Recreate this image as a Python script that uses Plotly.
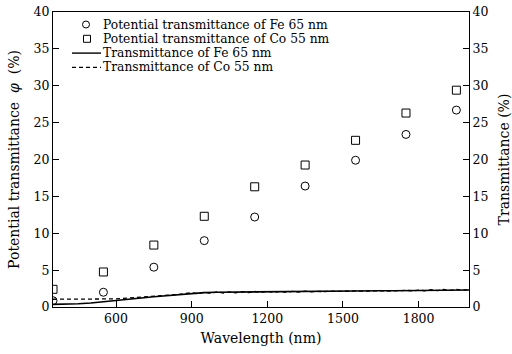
import plotly.graph_objects as go

# Potential transmittance (symbols), sampled every 200 nm
pt_wavelength = [350, 550, 750, 950, 1150, 1350, 1550, 1750, 1950]
pt_fe = [0.85, 2.0, 5.4, 9.0, 12.2, 16.4, 19.9, 23.4, 26.7]
pt_co = [2.4, 4.75, 8.4, 12.3, 16.3, 19.25, 22.6, 26.3, 29.4]

# Measured transmittance spectra (lines)
fe_wavelength = list(range(350, 2001, 50))
fe_trans = [0.35, 0.38, 0.45, 0.55, 0.7, 0.88, 1.05, 1.22, 1.4, 1.55, 1.7, 1.85,
            1.95, 2.0, 2.02, 2.05, 2.08, 2.1, 2.1, 2.12, 2.12, 2.13, 2.15, 2.15,
            2.17, 2.18, 2.2, 2.2, 2.22, 2.22, 2.25, 2.25, 2.28, 2.3]

co_wavelength = list(range(350, 2001, 25))
co_trans = [1.05, 1.05, 1.04, 1.04, 1.05, 1.05, 1.06, 1.06, 1.07, 1.08, 1.1,
            1.15, 1.2, 1.27, 1.33, 1.4, 1.46, 1.52, 1.58, 1.65, 1.72,
            1.85, 1.95, 1.8, 2.0, 1.85, 2.05, 1.9, 2.05, 1.92, 2.08,
            1.95, 2.1, 1.97, 2.12, 1.98, 2.1, 2.0, 2.12, 2.02, 2.15,
            2.05, 2.12, 2.08, 2.15, 2.1, 2.16, 2.12, 2.18, 2.14, 2.18,
            2.15, 2.2, 2.17, 2.22, 2.18, 2.25, 2.2, 2.28, 2.2, 2.35,
            2.22, 2.38, 2.25, 2.4, 2.28, 2.4]

x_ticks = [600, 900, 1200, 1500, 1800]
legend_labels = ["Potential transmittance of Fe 65 nm",
                 "Potential transmittance of Co 55 nm",
                 "Transmittance of Fe 65 nm",
                 "Transmittance of Co 55 nm"]

FONT = "DejaVu Serif"
W, H = 512, 354
L, R, T, B = 53, 43, 12, 47
PW, PH = W - L - R, H - T - B


def px(xp):
    return (xp - L) / PW


def py(yp):
    return (H - B - yp) / PH


fig = go.Figure()
fig.add_trace(go.Scatter(x=pt_wavelength, y=pt_fe, mode="markers",
                         marker=dict(symbol="circle-open", size=8, color="black",
                                     line=dict(width=1, color="black"))))
fig.add_trace(go.Scatter(x=pt_wavelength, y=pt_co, mode="markers",
                         marker=dict(symbol="square-open", size=8, color="black",
                                     line=dict(width=1, color="black"))))
fig.add_trace(go.Scatter(x=fe_wavelength, y=fe_trans, mode="lines", yaxis="y2",
                         line=dict(color="black", width=1.6)))
fig.add_trace(go.Scatter(x=co_wavelength, y=co_trans, mode="lines", yaxis="y2",
                         line=dict(color="black", width=1.3, dash="4px,3px")))

# Legend block drawn as shapes and text
row_y = [24.5, 38.8, 53.1, 67.4]
shapes = [
    dict(type="circle", xref="paper", yref="paper", xsizemode="pixel", ysizemode="pixel",
         xanchor=px(86), yanchor=py(row_y[0]), x0=-3.5, x1=3.5, y0=-3.5, y1=3.5,
         line=dict(color="black", width=1)),
    dict(type="rect", xref="paper", yref="paper", xsizemode="pixel", ysizemode="pixel",
         xanchor=px(87), yanchor=py(row_y[1]), x0=-3.5, x1=3.5, y0=-3.5, y1=3.5,
         line=dict(color="black", width=1)),
    dict(type="line", xref="paper", yref="paper", x0=px(72), x1=px(101),
         y0=py(row_y[2]), y1=py(row_y[2]), line=dict(color="black", width=1.4)),
    dict(type="line", xref="paper", yref="paper", x0=px(72), x1=px(101),
         y0=py(row_y[3]), y1=py(row_y[3]), line=dict(color="black", width=1.2, dash="4px,3px")),
]
annotations = [
    dict(text=lab, xref="paper", yref="paper", x=px(101), y=py(yy), xanchor="left",
         yanchor="middle", showarrow=False, font=dict(family=FONT, size=12.3, color="black"))
    for lab, yy in zip(legend_labels, row_y)
]

axis_common = dict(showline=True, linecolor="black", linewidth=1.2, ticks="inside",
                   ticklen=6, tickcolor="black", tickwidth=1, showgrid=False,
                   zeroline=False, automargin=False,
                   tickfont=dict(family=FONT, size=12.5, color="black"))

TITLE_SIZE = 14

fig.update_layout(
    width=W, height=H, margin=dict(l=L, r=R, t=T, b=B),
    paper_bgcolor="white", plot_bgcolor="white", showlegend=False,
    font=dict(family=FONT, size=12, color="black"),
    xaxis=dict(range=[350, 2000], tickvals=x_ticks, mirror=True,
               title=dict(text="Wavelength (nm)", font=dict(family=FONT, size=TITLE_SIZE),
                          standoff=8),
               **axis_common),
    yaxis=dict(range=[0, 40], dtick=5,
               title=dict(text="Potential transmittance  <i>φ</i>  (%)",
                          font=dict(family=FONT, size=TITLE_SIZE), standoff=10),
               **axis_common),
    yaxis2=dict(range=[0, 40], dtick=5, overlaying="y", side="right",
                title=dict(text="Transmittance (%)", font=dict(family=FONT, size=TITLE_SIZE),
                           standoff=21),
                **axis_common),
    shapes=shapes, annotations=annotations,
)

fig.write_html("out.html")
